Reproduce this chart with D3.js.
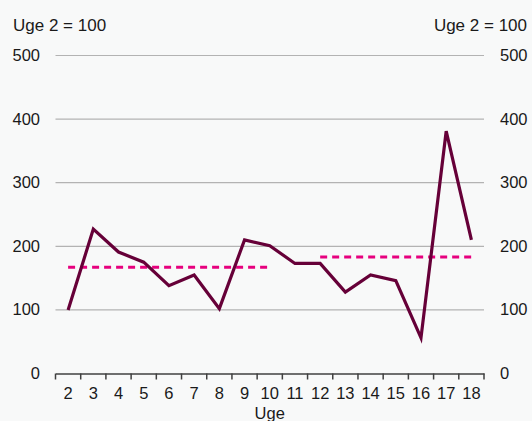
<!DOCTYPE html>
<html>
<head>
<meta charset="utf-8">
<script src="https://cdn.jsdelivr.net/npm/d3@7"></script>
<style>
  body { margin: 0; background: #f8f9f9; }
  svg { display: block; font-family: "Liberation Sans", Arial, sans-serif; }
</style>
</head>
<body>
<svg id="chart"></svg>
<script>
const width = 532, height = 421;
const margin = {top: 55.5, right: 48, bottom: 47.5, left: 55.5};

// DATA
const weeks = ["2", "3", "4", "5", "6", "7", "8", "9", "10", "11", "12", "13", "14", "15", "16", "17", "18"];
const values = [100, 227, 191, 175, 138, 155, 102, 210, 201, 173, 173, 128, 155, 146, 56, 381, 210];
const avgWeeks1 = ["2", "10"];
const avgValue1 = 167;
const avgWeeks2 = ["12", "18"];
const avgValue2 = 183;
const yTicks = [0, 100, 200, 300, 400, 500];
const unitLabel = "Uge 2 = 100";
const xTitle = "Uge";

const svg = d3.select("#chart")
    .attr("width", width)
    .attr("height", height);

const x = d3.scaleBand()
    .domain(weeks)
    .range([margin.left, width - margin.right])
    .padding(0);
const y = d3.scaleLinear()
    .domain([0, 500])
    .range([height - margin.bottom, margin.top]);

const cx = d => x(d) + x.bandwidth() / 2;

// gridlines
svg.append("g")
    .selectAll("line")
    .data(yTicks.filter(d => d > 0))
    .join("line")
      .attr("x1", margin.left)
      .attr("x2", width - margin.right)
      .attr("y1", d => y(d))
      .attr("y2", d => y(d))
      .attr("stroke", "#b3b3b3")
      .attr("stroke-width", 1.2);

// y labels left and right
svg.append("g")
    .selectAll("text")
    .data(yTicks)
    .join("text")
      .attr("x", 40)
      .attr("y", d => y(d))
      .attr("dy", "0.33em")
      .attr("text-anchor", "end")
      .attr("font-size", 16.5)
      .attr("fill", "#1a1a1a")
      .text(d => d);
svg.append("g")
    .selectAll("text")
    .data(yTicks)
    .join("text")
      .attr("x", 500)
      .attr("y", d => y(d))
      .attr("dy", "0.33em")
      .attr("text-anchor", "start")
      .attr("font-size", 16.5)
      .attr("fill", "#1a1a1a")
      .text(d => d);

// unit labels
svg.append("text")
    .attr("x", 13)
    .attr("y", 31)
    .attr("font-size", 17)
    .attr("fill", "#1a1a1a")
    .text(unitLabel);
svg.append("text")
    .attr("x", 527)
    .attr("y", 31)
    .attr("text-anchor", "end")
    .attr("font-size", 17)
    .attr("fill", "#1a1a1a")
    .text(unitLabel);

// x axis
const xAxis = svg.append("g")
    .attr("transform", `translate(0, ${y(0)})`)
    .call(d3.axisBottom(x).tickSize(0).tickPadding(14));
xAxis.select(".domain").attr("stroke", "#404040").attr("stroke-width", 1.5);
xAxis.selectAll("text").attr("font-size", 16.5).attr("fill", "#1a1a1a").attr("font-family", null);
xAxis.append("g")
    .selectAll("line")
    .data(weeks.map(d => x(d)).concat([x.range()[1]]))
    .join("line")
      .attr("x1", d => d)
      .attr("x2", d => d)
      .attr("y1", 0)
      .attr("y2", 6)
      .attr("stroke", "#404040")
      .attr("stroke-width", 1.5);

svg.append("text")
    .attr("x", (x.range()[0] + x.range()[1]) / 2)
    .attr("y", 419)
    .attr("text-anchor", "middle")
    .attr("font-size", 16.5)
    .attr("fill", "#1a1a1a")
    .text(xTitle);

// average lines
[[avgWeeks1, avgValue1], [avgWeeks2, avgValue2]].forEach(([wk, v]) => {
  svg.append("line")
      .attr("x1", cx(wk[0]))
      .attr("x2", cx(wk[1]))
      .attr("y1", y(v))
      .attr("y2", y(v))
      .attr("stroke", "#e6007e")
      .attr("stroke-width", 3)
      .attr("stroke-dasharray", "7,5");
});

// main line
svg.append("path")
    .datum(values)
    .attr("fill", "none")
    .attr("stroke", "#660038")
    .attr("stroke-width", 3.2)
    .attr("stroke-linejoin", "miter")
    .attr("d", d3.line()
      .x((d, i) => cx(weeks[i]))
      .y(d => y(d)));
</script>
</body>
</html>
